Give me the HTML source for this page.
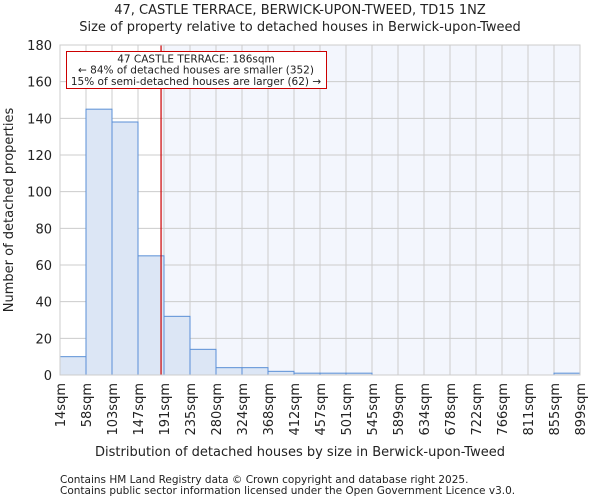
<!DOCTYPE html>
<html><head><meta charset="utf-8"><style>
body{margin:0;background:#fff;font-family:"DejaVu Sans","Liberation Sans",sans-serif;}
svg text{font-family:"DejaVu Sans","Liberation Sans",sans-serif;fill:#222;}
</style></head><body>
<svg id="c" width="600" height="500" xmlns="http://www.w3.org/2000/svg">
<text x="300" y="14" text-anchor="middle" font-size="13">47, CASTLE TERRACE, BERWICK-UPON-TWEED, TD15 1NZ</text>
<text x="300" y="31" text-anchor="middle" font-size="13">Size of property relative to detached houses in Berwick-upon-Tweed</text>
<g id="plot"></g>
<text x="300" y="456" text-anchor="middle" font-size="13">Distribution of detached houses by size in Berwick-upon-Tweed</text>
<text transform="translate(13,210) rotate(-90)" text-anchor="middle" font-size="13">Number of detached properties</text>
<text x="60" y="483" font-size="10.5" fill="#444">Contains HM Land Registry data © Crown copyright and database right 2025.</text>
<text x="60" y="494" font-size="10.5" fill="#444">Contains public sector information licensed under the Open Government Licence v3.0.</text>
</svg>
<script>
const categories=["14sqm","58sqm","103sqm","147sqm","191sqm","235sqm","280sqm","324sqm","368sqm","412sqm","457sqm","501sqm","545sqm","589sqm","634sqm","678sqm","722sqm","766sqm","811sqm","855sqm","899sqm"];
const counts=[10,145,138,65,32,14,4,4,2,1,1,1,0,0,0,0,0,0,0,1];
const yTicks=[0,20,40,60,80,100,120,140,160,180];
const binEdges=[14,58,103,147,191,235,280,324,368,412,457,501,545,589,634,678,722,766,811,855,899];
const propertySize=186;
const X0=60,X1=580,Y0=375,Y1=45,YMAX=180;
const n=counts.length,bw=(X1-X0)/n;
const xs=i=>X0+i*bw;
const ys=v=>Y0-(v/YMAX)*(Y0-Y1);
function sizeX(s){for(let i=0;i<binEdges.length-1;i++){if(s<=binEdges[i+1])return xs(i)+bw*(s-binEdges[i])/(binEdges[i+1]-binEdges[i]);}return X1;}
const NS="http://www.w3.org/2000/svg";
const g=document.getElementById('plot');
function mk(t,a){const e=document.createElementNS(NS,t);for(const k in a)e.setAttribute(k,a[k]);g.appendChild(e);return e;}
const mx=sizeX(propertySize);
let e=mk('rect',{x:mx,y:Y1,width:X1-mx,height:Y0-Y1,fill:'#f3f6fd'});


yTicks.forEach(t=>{
 let l=mk('line',{x1:X0,x2:X1,y1:ys(t),y2:ys(t),stroke:'#ccc','stroke-width':1});
 
 
 let tx=mk('text',{x:X0-8,y:ys(t)+5,'text-anchor':'end','font-size':13});
 tx.textContent=t;
 
 
});
categories.forEach((c,i)=>{
 let l=mk('line',{x1:xs(i),x2:xs(i),y1:Y1,y2:Y0,stroke:'#ccc','stroke-width':1});
 
 
 let tx=mk('text',{transform:`translate(${xs(i)+5},${Y0+8}) rotate(-90)`,'text-anchor':'end','font-size':13});
 tx.textContent=c;
 
 
});
counts.forEach((v,i)=>{
 if(v<=0)return;
 let r=mk('rect',{x:xs(i),y:ys(v),width:bw,height:Y0-ys(v),fill:'#dce6f5',stroke:'#5a8fd6','stroke-width':1});
 
 
});
let ml=mk('line',{x1:mx,x2:mx,y1:Y1,y2:Y0,stroke:'#c00','stroke-width':1.2});


let ax=mk('rect',{x:X0,y:Y1,width:X1-X0,height:Y0-Y1,fill:'none',stroke:'#ccc'});


let bx=mk('rect',{x:66.5,y:51.5,width:260,height:37,fill:'#fff',stroke:'#c00','stroke-width':1});


["47 CASTLE TERRACE: 186sqm","← 84% of detached houses are smaller (352)","15% of semi-detached houses are larger (62) →"].forEach((s,i)=>{
 let t=mk('text',{x:196,y:62.5+i*11.2,'text-anchor':'middle','font-size':10.5});
 t.textContent=s;
 
 
});
</script>
</body></html>
